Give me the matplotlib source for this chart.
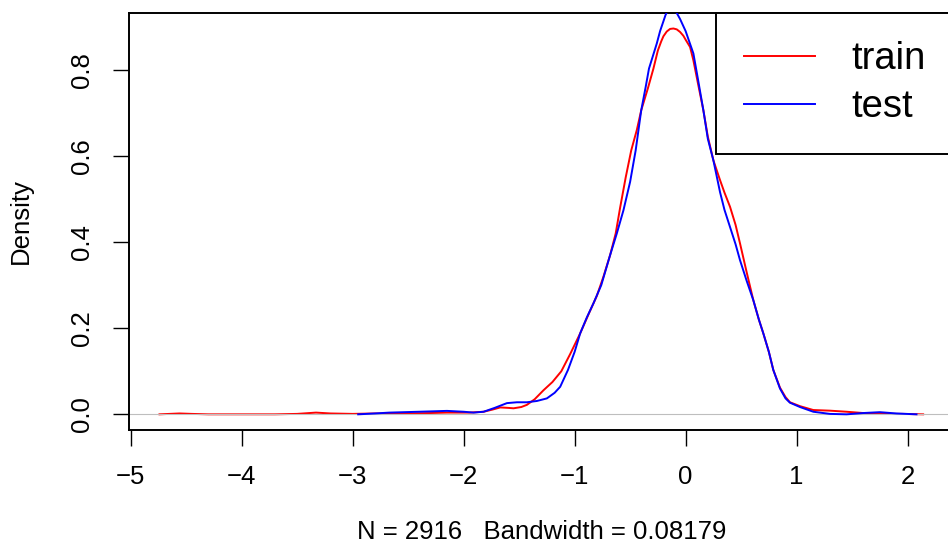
import numpy as np
import matplotlib
matplotlib.use("Agg")
import matplotlib.pyplot as plt

plt.rcParams['font.family'] = ['Liberation Sans', 'DejaVu Sans']

# density curves (x, density)
train_x = [-4.74, -4.65, -4.56, -4.45, -4.3, -4.0, -3.7, -3.5, -3.33, -3.2, -3.0, -2.8,
           -2.5, -2.3, -2.15, -1.95, -1.82, -1.74, -1.67, -1.6, -1.55, -1.48, -1.43, -1.36,
           -1.28, -1.2, -1.12, -1.04, -0.95, -0.87, -0.8, -0.74, -0.68, -0.63, -0.59, -0.54,
           -0.49, -0.44, -0.40, -0.34, -0.29, -0.25, -0.22, -0.20, -0.17, -0.14, -0.11, -0.08,
           -0.05, -0.02, 0.0, 0.04, 0.07, 0.11, 0.16, 0.20, 0.25, 0.31, 0.35, 0.40, 0.45, 0.49,
           0.55, 0.61, 0.66, 0.70, 0.75, 0.79, 0.85, 0.90, 0.94, 1.03, 1.15, 1.30, 1.45, 1.60,
           1.75, 1.95, 2.14]
train_y = [0.0, 0.001, 0.002, 0.001, 0.0, 0.0, 0.0, 0.001, 0.004, 0.002, 0.001, 0.002,
           0.002, 0.003, 0.004, 0.004, 0.006, 0.011, 0.016, 0.015, 0.014, 0.017, 0.022, 0.035,
           0.056, 0.075, 0.10, 0.14, 0.188, 0.235, 0.275, 0.32, 0.37, 0.42, 0.48, 0.55,
           0.613, 0.66, 0.706, 0.757, 0.803, 0.845, 0.866, 0.878, 0.889, 0.895, 0.896, 0.894,
           0.888, 0.879, 0.870, 0.853, 0.822, 0.77, 0.706, 0.645, 0.59, 0.544, 0.515, 0.482, 0.44, 0.397,
           0.33, 0.265, 0.22, 0.188, 0.145, 0.103, 0.062, 0.04, 0.028, 0.019, 0.010, 0.0085, 0.006, 0.003,
           0.001, 0.001, 0.0]

test_x = [-2.95, -2.8, -2.67, -2.4, -2.15, -2.0, -1.91, -1.82, -1.72, -1.61, -1.52, -1.43,
          -1.34, -1.25, -1.18, -1.13, -1.06, -1.0, -0.95, -0.89, -0.83, -0.76, -0.68, -0.62,
          -0.56, -0.50, -0.45, -0.40, -0.36, -0.33, -0.26, -0.23, -0.18, -0.155, -0.13, -0.105,
          -0.08, -0.05, 0.0, 0.07, 0.11, 0.16, 0.20, 0.25, 0.31, 0.35, 0.40, 0.45, 0.49, 0.55,
          0.61, 0.66, 0.70, 0.75, 0.79, 0.85, 0.90, 0.94, 1.03, 1.15, 1.30, 1.45, 1.60, 1.75,
          1.9, 2.08]
test_y = [0.0, 0.002, 0.004, 0.006, 0.008, 0.006, 0.004, 0.006, 0.015, 0.026, 0.028, 0.028,
          0.031, 0.037, 0.05, 0.064, 0.103, 0.145, 0.188, 0.225, 0.258, 0.30, 0.37, 0.42,
          0.474, 0.54, 0.613, 0.706, 0.76, 0.803, 0.861, 0.89, 0.928, 0.940, 0.944, 0.940,
          0.932, 0.918, 0.89, 0.838, 0.78, 0.706, 0.64, 0.59, 0.516, 0.475, 0.435, 0.395, 0.358, 0.31,
          0.265, 0.22, 0.188, 0.145, 0.103, 0.06, 0.037, 0.027, 0.017, 0.006, 0.001, 0.0, 0.003, 0.005,
          0.002, 0.0]

x_ticks = [-5, -4, -3, -2, -1, 0, 1, 2]
y_ticks = [0.0, 0.2, 0.4, 0.6, 0.8]
x_label = "N = 2916   Bandwidth = 0.08179"
labels = ["train", "test"]

W, H = 948, 553
fig = plt.figure(figsize=(W / 100, H / 100), dpi=100)
# R-style plot region, right edge falls just outside the image
left, right, top, bottom = 129.3, 953.9, 13, 430
ax = fig.add_axes([left / W, (H - bottom) / H, (right - left) / W, (bottom - top) / H])

ax.plot(train_x, train_y, color='red', lw=1.4, zorder=2, label=labels[0])
ax.axhline(0, color='#BEBEBE', lw=0.8, zorder=2.5)
ax.plot(test_x, test_y, color='blue', lw=1.4, zorder=3, label=labels[1])

ax.set_xlim(-5.012, 2.417)
ax.set_ylim(-0.0364, 0.932)
ax.set_xticks(x_ticks)
ax.set_xticklabels([str(t) if t >= 0 else '\u2212' + str(-t) for t in x_ticks])
ax.set_yticks(y_ticks)
ax.set_yticklabels(["%.1f" % t for t in y_ticks], rotation=90, va='center')

for s in ax.spines.values():
    s.set_linewidth(1.4)
    s.set_color('black')

ax.tick_params(axis='both', direction='out', length=11.5, width=1.0,
               labelsize=18.5, colors='black')
ax.tick_params(axis='x', pad=14)
ax.tick_params(axis='y', pad=14)

ax.set_xlabel(x_label, fontsize=18.5, labelpad=22)
ax.set_ylabel("Density", fontsize=18.5, labelpad=27)

leg = ax.legend(loc='upper right', bbox_to_anchor=(1, 1), borderaxespad=0,
                fontsize=27.5, frameon=True, fancybox=False, handlelength=1.85,
                handletextpad=0.95, borderpad=0.74, labelspacing=0.32)
leg.get_frame().set_edgecolor('black')
leg.get_frame().set_linewidth(1.4)
leg.get_frame().set_alpha(1)

fig.savefig("out.png", dpi=100)
